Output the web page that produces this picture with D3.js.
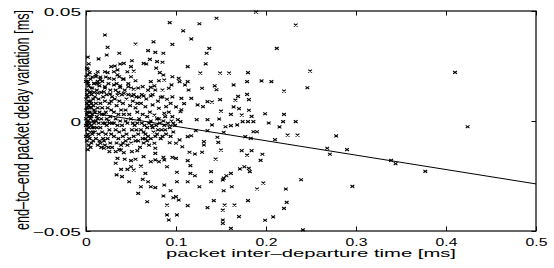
<!DOCTYPE html>
<html><head><meta charset="utf-8">
<script src="https://cdn.jsdelivr.net/npm/d3@7"></script>
<style>
html,body{margin:0;padding:0;background:#fff;}
svg{display:block;font-family:"Liberation Sans",Arial,sans-serif;}
</style></head>
<body>
<svg id="chart" width="554" height="268"></svg>
<script>
// ---- data ----
const xTicks = [0, 0.1, 0.2, 0.3, 0.4, 0.5];
const xTickLabels = ["0", "0.1", "0.2", "0.3", "0.4", "0.5"];
const yTicks = [-0.05, 0, 0.05];
const yTickLabels = ["\u22120.05", "0", "0.05"];
const xLabel = "packet inter\u2013departure time [ms]";
const yLabel = "end\u2013to\u2013end packet delay variation [ms]";
// least-squares fit line endpoints
const fitX = [0, 0.5];
const fitY = [0.0041, -0.0286];

// sparse points, right side
const pointsFar = [[0.233,0.0436],[0.212,0.033],[0.249,0.0227],[0.195,0.0182],[0.206,0.0179],[0.220,0.0136],[0.246,0.0151],[0.199,0.0033],[0.220,0.003],[0.203,-0.0009],[0.219,-0.0003],[0.233,-0.0003],[0.215,-0.0027],[0.224,-0.0064],[0.235,-0.0064],[0.278,-0.0068],[0.210,-0.0085],[0.268,-0.0124],[0.271,-0.0151],[0.290,-0.013],[0.196,-0.0151],[0.194,-0.0179],[0.197,-0.0282],[0.239,-0.0267],[0.222,-0.0309],[0.296,-0.0297],[0.223,-0.037],[0.220,-0.0397],[0.208,-0.0436],[0.199,-0.0451],[0.241,-0.0495],[0.189,0.0495],[0.410,0.0221],[0.424,-0.0026],[0.339,-0.0179],[0.344,-0.0194],[0.377,-0.0229]];

// middle, upper half (x 0.1-0.19)
const pointsMidUp = [[0.145,0.0467],[0.126,0.0442],[0.108,0.041],[0.117,0.0373],[0.137,0.033],[0.134,0.0308],[0.133,0.026],[0.113,0.0247],[0.127,0.0218],[0.149,0.0218],[0.159,0.0218],[0.180,0.022],[0.103,0.0194],[0.104,0.0179],[0.113,0.0179],[0.110,0.0164],[0.179,0.0179],[0.164,0.0164],[0.143,0.016],[0.129,0.0149],[0.145,0.0142],[0.114,0.0141],[0.179,0.0121],[0.169,0.0112],[0.106,0.0103],[0.117,0.0103],[0.149,0.0097],[0.181,0.0097],[0.166,0.0095],[0.135,0.0088],[0.140,0.0086],[0.109,0.0079],[0.124,0.0073],[0.130,0.0065],[0.100,0.0064],[0.164,0.0064],[0.170,0.0056],[0.181,0.0049],[0.106,0.0051],[0.105,0.0042],[0.150,0.0045],[0.161,0.003],[0.173,0.0027],[0.184,0.0021],[0.135,0.0006],[0.148,0.0009],[0.123,0.0006],[0.102,0.0006]];

// middle, lower half (x 0.1-0.19)
const pointsMidLow = [[0.105,-0.0003],[0.140,-0.0018],[0.155,-0.0026],[0.161,-0.0021],[0.168,-0.0018],[0.174,-0.0003],[0.180,-0.0003],[0.186,-0.0003],[0.122,-0.0044],[0.135,-0.0044],[0.153,-0.0051],[0.186,-0.0049],[0.190,-0.0049],[0.113,-0.0071],[0.117,-0.0067],[0.146,-0.0074],[0.177,-0.0071],[0.183,-0.0079],[0.104,-0.0086],[0.131,-0.0094],[0.147,-0.0097],[0.131,-0.0109],[0.100,-0.0101],[0.107,-0.0117],[0.150,-0.0132],[0.173,-0.0135],[0.184,-0.0135],[0.115,-0.0142],[0.121,-0.0150],[0.129,-0.0142],[0.179,-0.0155],[0.100,-0.0170],[0.113,-0.0180],[0.144,-0.0173],[0.116,-0.0203],[0.171,-0.0218],[0.176,-0.0208],[0.181,-0.0215],[0.182,-0.023],[0.101,-0.0233],[0.116,-0.0238],[0.121,-0.0249],[0.139,-0.023],[0.161,-0.0238],[0.156,-0.0249],[0.153,-0.026],[0.152,-0.0268],[0.101,-0.0276],[0.113,-0.0276],[0.139,-0.0276],[0.126,-0.0299],[0.162,-0.0299],[0.153,-0.0317],[0.190,-0.0309],[0.100,-0.0344],[0.103,-0.0359],[0.142,-0.0362],[0.180,-0.0362],[0.113,-0.0385],[0.135,-0.0394],[0.154,-0.0382],[0.165,-0.0382],[0.152,-0.0405],[0.101,-0.0427],[0.170,-0.0435],[0.152,-0.045],[0.152,-0.0465],[0.161,-0.0488]];

// near, lower (x < 0.1)
const pointsNearLow = [[0.016,-0.0101],[0.020,-0.0124],[0.026,-0.0139],[0.033,-0.0139],[0.039,-0.0132],[0.042,-0.0144],[0.051,-0.0139],[0.057,-0.0135],[0.064,-0.0162],[0.076,-0.0101],[0.077,-0.0124],[0.077,-0.0147],[0.093,-0.0099],[0.096,-0.0165],[0.035,-0.017],[0.033,-0.0192],[0.043,-0.0174],[0.050,-0.018],[0.055,-0.0174],[0.072,-0.0185],[0.081,-0.0185],[0.087,-0.0177],[0.090,-0.0208],[0.039,-0.022],[0.046,-0.022],[0.053,-0.0223],[0.061,-0.0205],[0.050,-0.0208],[0.066,-0.0238],[0.034,-0.0245],[0.040,-0.0253],[0.048,-0.0276],[0.063,-0.0265],[0.069,-0.0276],[0.072,-0.0299],[0.077,-0.0303],[0.087,-0.0291],[0.094,-0.0317],[0.097,-0.0349],[0.061,-0.0299],[0.058,-0.0329],[0.068,-0.0367],[0.086,-0.0341],[0.090,-0.0382],[0.090,-0.0427],[0.092,-0.045],[0.086,-0.0165],[0.077,-0.0177]];

// near, upper (x < 0.1)
const pointsNearUp = [[0.093,0.0447],[0.021,0.0391],[0.055,0.035],[0.075,0.036],[0.024,0.0335],[0.037,0.0308],[0.023,0.030],[0.069,0.032],[0.077,0.0312],[0.086,0.0308],[0.096,0.0348],[0.014,0.0282],[0.051,0.0274],[0.071,0.028],[0.079,0.027],[0.085,0.0267],[0.064,0.0262],[0.067,0.0259],[0.028,0.0247],[0.032,0.025],[0.038,0.0259],[0.042,0.0262],[0.050,0.0247],[0.002,0.0235],[0.013,0.0224],[0.021,0.0224],[0.031,0.0224],[0.035,0.0232],[0.046,0.0224],[0.053,0.0227],[0.078,0.024],[0.082,0.022],[0.086,0.0209],[0.096,0.0201],[0.011,0.0201],[0.016,0.019],[0.026,0.0194],[0.037,0.0201],[0.042,0.0191],[0.050,0.0201],[0.055,0.0183],[0.072,0.0179],[0.081,0.0183],[0.087,0.0186],[0.002,0.0179],[0.009,0.0171],[0.014,0.0168],[0.021,0.0156],[0.031,0.0164],[0.038,0.0153],[0.047,0.0156],[0.053,0.0145],[0.063,0.0156],[0.072,0.0153],[0.077,0.0141],[0.085,0.0141],[0.092,0.0149],[0.095,0.0164],[0.005,0.0133],[0.013,0.0126],[0.020,0.0133],[0.027,0.0123],[0.035,0.0118],[0.042,0.0126],[0.051,0.0114],[0.059,0.0108],[0.064,0.0114],[0.072,0.0114],[0.083,0.0108],[0.090,0.0099],[0.096,0.011],[0.057,0.008],[0.066,0.0065],[0.074,0.0073],[0.081,0.0058],[0.089,0.0065],[0.094,0.008],[0.087,0.0035],[0.076,0.0027],[0.068,0.002],[0.096,0.002]];

// dense cluster near the origin
const pointsCluster = [[0.001,0.024],[0.002,0.021],[0.000,0.018],[0.003,0.016],[0.001,0.014],[0.004,0.013],[0.002,0.011],[0.000,0.010],[0.005,0.009],[0.001,0.008],[0.003,0.007],[0.006,0.006],[0.000,0.005],[0.002,0.004],[0.004,0.004],[0.001,0.003],[0.007,0.003],[0.003,0.002],[0.000,0.001],[0.005,0.001],[0.002,0.000],[0.008,0.000],[0.001,-0.001],[0.004,-0.001],[0.006,-0.002],[0.000,-0.002],[0.003,-0.003],[0.009,-0.003],[0.001,-0.004],[0.005,-0.005],[0.002,-0.006],[0.007,-0.006],[0.000,-0.007],[0.004,-0.008],[0.001,-0.009],[0.006,-0.010],[0.003,-0.011],[0.002,-0.013],[0.008,-0.009],[0.009,0.005],[0.008,0.010],[0.006,0.012],[0.007,0.015],[0.009,0.017],[0.005,0.019],[0.004,0.022],[0.007,0.020],[0.009,0.013],[0.008,0.007],[0.006,0.002],[0.009,-0.001],[0.008,-0.005],[0.005,-0.012],[0.003,0.026],[0.002,0.029],[0.000,0.020],[0.001,0.012],[0.003,0.009],[0.005,0.015],[0.002,0.017],[0.004,0.006],[0.006,0.008],[0.007,-0.003],[0.002,-0.002],[0.004,0.002],[0.001,0.006],[0.003,-0.007],
[0.011,0.021],[0.013,0.018],[0.015,0.016],[0.012,0.014],[0.017,0.013],[0.010,0.011],[0.014,0.010],[0.019,0.011],[0.011,0.008],[0.016,0.008],[0.013,0.006],[0.018,0.006],[0.010,0.004],[0.015,0.004],[0.020,0.003],[0.012,0.002],[0.017,0.001],[0.011,0.000],[0.014,-0.001],[0.019,-0.001],[0.012,-0.003],[0.016,-0.003],[0.010,-0.005],[0.014,-0.006],[0.018,-0.005],[0.011,-0.008],[0.015,-0.009],[0.013,-0.011],[0.019,-0.008],[0.017,-0.012],[0.022,0.020],[0.025,0.017],[0.021,0.015],[0.027,0.014],[0.023,0.012],[0.029,0.011],[0.021,0.009],[0.026,0.008],[0.024,0.006],[0.028,0.005],[0.022,0.004],[0.027,0.002],[0.025,0.000],[0.021,-0.001],[0.029,-0.001],[0.023,-0.002],[0.026,-0.004],[0.022,-0.006],[0.028,-0.006],[0.024,-0.008],[0.027,-0.010],[0.021,-0.011],[0.025,-0.012],[0.018,0.018],[0.016,0.020],[0.024,0.022],[0.020,-0.009],[0.013,0.001],[0.023,0.001],[0.018,0.003],[0.028,0.009],[0.012,0.017],[0.026,-0.001],
[0.031,0.019],[0.034,0.017],[0.038,0.016],[0.033,0.014],[0.036,0.013],[0.040,0.012],[0.032,0.010],[0.037,0.009],[0.041,0.008],[0.034,0.007],[0.039,0.005],[0.031,0.004],[0.036,0.003],[0.042,0.003],[0.033,0.001],[0.038,0.000],[0.044,0.000],[0.031,-0.001],[0.035,-0.002],[0.040,-0.002],[0.046,-0.001],[0.033,-0.004],[0.037,-0.005],[0.042,-0.004],[0.031,-0.007],[0.036,-0.008],[0.041,-0.007],[0.045,-0.006],[0.034,-0.010],[0.039,-0.011],[0.044,-0.009],[0.048,-0.008],[0.043,0.014],[0.047,0.012],[0.045,0.010],[0.049,0.007],[0.044,0.005],[0.048,0.003],[0.050,0.001],[0.052,-0.001],[0.054,-0.002],[0.051,-0.004],[0.056,-0.004],[0.053,-0.007],[0.058,-0.006],[0.050,-0.010],[0.055,-0.009],[0.052,0.009],[0.055,0.006],[0.057,0.004],[0.059,0.001],[0.057,-0.001],[0.053,0.012],[0.058,0.015],[0.047,0.017],[0.041,0.019],[0.035,0.021],[0.050,0.015],[0.056,0.011],
[0.061,0.008],[0.063,0.003],[0.062,-0.001],[0.065,-0.002],[0.064,-0.005],[0.066,-0.008],[0.068,-0.003],[0.070,-0.001],[0.071,0.004],[0.073,-0.002],[0.075,-0.005],[0.072,-0.008],[0.078,-0.002],[0.079,-0.006],[0.082,-0.001],[0.084,-0.004],[0.081,0.001],[0.087,-0.002],[0.089,-0.006],[0.091,-0.001],[0.093,-0.003],[0.095,0.000],[0.097,-0.005],[0.099,-0.002],[0.067,0.010],[0.074,0.012],[0.080,0.009],[0.085,0.011],[0.069,0.014],[0.076,0.016],[0.062,0.012],[0.088,0.002],[0.092,0.004],[0.083,-0.008],[0.070,-0.011],[0.060,-0.012],[0.064,-0.010],
[0.061,-0.004],[0.066,-0.006],[0.069,-0.007],[0.074,-0.003],[0.077,-0.007],[0.080,-0.004],[0.085,-0.007],[0.088,-0.004],[0.094,-0.007],[0.097,-0.001],[0.072,0.000],[0.079,0.001],[0.086,0.000],[0.063,-0.008],[0.068,-0.009],[0.058,-0.009],[0.046,-0.011],[0.041,-0.010],[0.029,-0.012],[0.037,-0.013]];

// ---- chart ----
const svg = d3.select("#chart");
const plot = {left: 86, right: 536, top: 11, bottom: 231};
const x = d3.scaleLinear().domain([0, 0.5]).range([plot.left, plot.right]);
const y = d3.scaleLinear().domain([-0.05, 0.05]).range([plot.bottom, plot.top]);
const tickLen = 4.5;

svg.append("rect").attr("width", 554).attr("height", 268).attr("fill", "#fff");

const allPoints = [].concat(pointsCluster, pointsNearUp, pointsNearLow, pointsMidUp, pointsMidLow, pointsFar);

// markers
svg.append("g")
  .selectAll("path")
  .data(allPoints)
  .join("path")
  .attr("transform", d => `translate(${x(d[0]).toFixed(2)},${y(d[1]).toFixed(2)})`)
  .attr("d", "M-1.9,-1.4L1.9,1.4M-1.9,1.4L1.9,-1.4")
  .attr("stroke", "#000")
  .attr("stroke-width", 1.1)
  .attr("fill", "none");

// fit line
const line = d3.line().x(d => x(d[0])).y(d => y(d[1]));
svg.append("path")
  .datum(fitX.map((v, i) => [v, fitY[i]]))
  .attr("d", line)
  .attr("stroke", "#000")
  .attr("stroke-width", 1)
  .attr("fill", "none");

// axes (inward ticks, MATLAB style)
const gBottom = svg.append("g").attr("transform", `translate(0,${plot.bottom})`)
  .call(d3.axisBottom(x).tickValues(xTicks).tickSize(-tickLen).tickFormat((d, i) => xTickLabels[i]));
const gTop = svg.append("g").attr("transform", `translate(0,${plot.top})`)
  .call(d3.axisTop(x).tickValues(xTicks).tickSize(-tickLen).tickFormat(""));
const gLeft = svg.append("g").attr("transform", `translate(${plot.left},0)`)
  .call(d3.axisLeft(y).tickValues(yTicks).tickSize(-tickLen).tickFormat((d, i) => yTickLabels[i]));
const gRight = svg.append("g").attr("transform", `translate(${plot.right},0)`)
  .call(d3.axisRight(y).tickValues(yTicks).tickSize(-tickLen).tickFormat(""));

[gBottom, gTop, gLeft, gRight].forEach(g => {
  g.select(".domain").remove();
  g.selectAll(".tick line").attr("stroke", "#000").attr("stroke-width", 1);
});

gBottom.selectAll(".tick text")
  .attr("font-family", "Liberation Sans, Arial, sans-serif")
  .attr("font-size", 10.5)
  .attr("fill", "#000")
  .attr("y", 14.5).attr("dy", null)
  .each(function() {
    const w = this.getComputedTextLength();
    d3.select(this).attr("textLength", (w * 1.5).toFixed(1)).attr("lengthAdjust", "spacingAndGlyphs");
  });

gLeft.selectAll(".tick text")
  .attr("font-family", "Liberation Sans, Arial, sans-serif")
  .attr("font-size", 10.5)
  .attr("fill", "#000")
  .attr("x", -5).attr("dy", null).attr("y", 4.5)
  .each(function() {
    const w = this.getComputedTextLength();
    d3.select(this).attr("textLength", (w * 1.82).toFixed(1)).attr("lengthAdjust", "spacingAndGlyphs");
  });

// box
svg.append("rect")
  .attr("x", plot.left).attr("y", plot.top)
  .attr("width", plot.right - plot.left).attr("height", plot.bottom - plot.top)
  .attr("fill", "none").attr("stroke", "#000").attr("stroke-width", 1.2);

// axis titles
svg.append("text")
  .attr("x", (plot.left + plot.right) / 2).attr("y", 257)
  .attr("text-anchor", "middle")
  .attr("font-size", 11.5)
  .attr("textLength", 290).attr("lengthAdjust", "spacingAndGlyphs")
  .text(xLabel);

svg.append("text")
  .attr("transform", "translate(28.5,120) rotate(-90) scale(1,1.6)")
  .attr("text-anchor", "middle")
  .attr("font-size", 12.5)
  .attr("textLength", 220).attr("lengthAdjust", "spacingAndGlyphs")
  .text(yLabel);
</script>
</body></html>
